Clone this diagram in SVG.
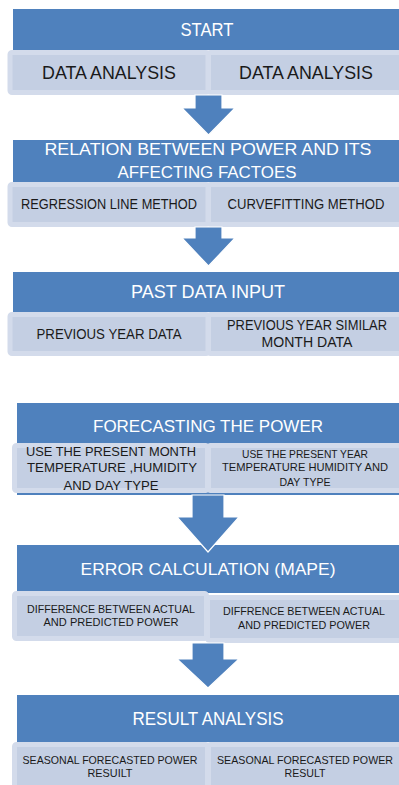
<svg xmlns="http://www.w3.org/2000/svg" width="399" height="785" viewBox="0 0 399 785">
<style>
.hdr{fill:#4f81bd}
.sub{fill:#c4cfe3;stroke:#d3dbeb;stroke-width:5}
.arr{fill:#4f81bd;stroke:#ffffff;stroke-width:1.2}
text{font-family:"Liberation Sans",Arial,sans-serif;text-anchor:middle}
.ht{fill:#ffffff}
.st{fill:#1a1a1a}
</style>
<rect width="399" height="785" fill="#ffffff"/>
<g id="start">
<rect class="hdr" x="13" y="9" width="392" height="41"/>
<text class="ht" x="207" y="36" font-size="18" textLength="53" lengthAdjust="spacingAndGlyphs">START</text>
<rect class="sub" x="10" y="52.5" width="198" height="40" rx="2"/>
<rect class="sub" x="208.5" y="52.5" width="196" height="40" rx="2"/>
<text class="st" x="109" y="79" font-size="19" textLength="134" lengthAdjust="spacingAndGlyphs">DATA ANALYSIS</text>
<text class="st" x="306" y="79" font-size="19" textLength="134" lengthAdjust="spacingAndGlyphs">DATA ANALYSIS</text>
</g>
<g id="relation">
<rect class="hdr" x="13" y="140" width="392" height="42"/>
<text class="ht" x="208" y="155" font-size="16" textLength="327" lengthAdjust="spacingAndGlyphs">RELATION  BETWEEN POWER AND ITS</text>
<text class="ht" x="207" y="178" font-size="16" textLength="179" lengthAdjust="spacingAndGlyphs">AFFECTING FACTOES</text>
<rect class="sub" x="10" y="184.5" width="198" height="40" rx="2"/>
<rect class="sub" x="208.5" y="184.5" width="196" height="40" rx="2"/>
<text class="st" x="109" y="209" font-size="15" textLength="176" lengthAdjust="spacingAndGlyphs">REGRESSION LINE METHOD</text>
<text class="st" x="306" y="209" font-size="15" textLength="157" lengthAdjust="spacingAndGlyphs">CURVEFITTING METHOD</text>
</g>
<g id="pastdata">
<rect class="hdr" x="13" y="272" width="392" height="40"/>
<text class="ht" x="208" y="298" font-size="18.5" textLength="154" lengthAdjust="spacingAndGlyphs">PAST DATA INPUT</text>
<rect class="sub" x="10" y="314.5" width="198" height="39" rx="2"/>
<rect class="sub" x="208.5" y="314.5" width="196" height="39" rx="2"/>
<text class="st" x="109" y="339" font-size="14" textLength="145" lengthAdjust="spacingAndGlyphs">PREVIOUS YEAR  DATA</text>
<text class="st" x="307" y="330" font-size="14" textLength="160" lengthAdjust="spacingAndGlyphs">PREVIOUS YEAR SIMILAR</text>
<text class="st" x="307" y="347" font-size="14" textLength="91" lengthAdjust="spacingAndGlyphs">MONTH DATA</text>
</g>
<g id="forecasting">
<rect class="hdr" x="17" y="403" width="388" height="92"/>
<text class="ht" x="208" y="432" font-size="17" textLength="230" lengthAdjust="spacingAndGlyphs">FORECASTING THE POWER</text>
<rect class="sub" x="14.5" y="445.5" width="193" height="45" rx="2"/>
<rect class="sub" x="208.5" y="445.5" width="196" height="45" rx="2"/>
<text class="st" x="111" y="456" font-size="13" textLength="170" lengthAdjust="spacingAndGlyphs">USE THE PRESENT MONTH</text>
<text class="st" x="112" y="472" font-size="13" textLength="170" lengthAdjust="spacingAndGlyphs">TEMPERATURE ,HUMIDITY</text>
<text class="st" x="111" y="490" font-size="13" textLength="95" lengthAdjust="spacingAndGlyphs">AND DAY TYPE</text>
<text class="st" x="305" y="458" font-size="10.5" textLength="126" lengthAdjust="spacingAndGlyphs">USE THE PRESENT YEAR</text>
<text class="st" x="305" y="471" font-size="10.5" textLength="166" lengthAdjust="spacingAndGlyphs">TEMPERATURE HUMIDITY AND</text>
<text class="st" x="305" y="486" font-size="10.5" textLength="51" lengthAdjust="spacingAndGlyphs">DAY TYPE</text>
</g>
<g id="error">
<rect class="hdr" x="17" y="545" width="388" height="48"/>
<text class="ht" x="208" y="575" font-size="17" textLength="255" lengthAdjust="spacingAndGlyphs">ERROR CALCULATION (MAPE)</text>
<rect class="sub" x="207.5" y="597.5" width="197" height="43" rx="2"/>
<rect class="sub" x="14.5" y="593.5" width="192" height="45" rx="2"/>
<text class="st" x="111" y="613" font-size="11.5" textLength="168" lengthAdjust="spacingAndGlyphs">DIFFERENCE BETWEEN ACTUAL</text>
<text class="st" x="111" y="626" font-size="11.5" textLength="135" lengthAdjust="spacingAndGlyphs">AND PREDICTED  POWER</text>
<text class="st" x="304" y="615" font-size="11.5" textLength="162" lengthAdjust="spacingAndGlyphs">DIFFRENCE BETWEEN ACTUAL</text>
<text class="st" x="304" y="629" font-size="11.5" textLength="132" lengthAdjust="spacingAndGlyphs">AND PREDICTED POWER</text>
</g>
<g id="result">
<rect class="hdr" x="17" y="695" width="388" height="47"/>
<text class="ht" x="208" y="725" font-size="18.5" textLength="151" lengthAdjust="spacingAndGlyphs">RESULT ANALYSIS</text>
<rect class="sub" x="14.5" y="744.5" width="193" height="46" rx="2"/>
<rect class="sub" x="208.5" y="744.5" width="196" height="46" rx="2"/>
<text class="st" x="110" y="764" font-size="11.5" textLength="175" lengthAdjust="spacingAndGlyphs">SEASONAL FORECASTED POWER</text>
<text class="st" x="110" y="777" font-size="11.5" textLength="45" lengthAdjust="spacingAndGlyphs">RESUILT</text>
<text class="st" x="305" y="764" font-size="11.5" textLength="176" lengthAdjust="spacingAndGlyphs">SEASONAL FORECASTED POWER</text>
<text class="st" x="305" y="777" font-size="11.5" textLength="41" lengthAdjust="spacingAndGlyphs">RESULT</text>
</g>
<g id="connectors">
<polygon class="arr" points="195,95 222,95 222,108 235,108 208.5,135 182,108 195,108"/>
<polygon class="arr" points="195,227 222,227 222,238 235,238 208.5,266 182,238 195,238"/>
<polygon class="arr" points="192,495 224,495 224,517 239,517 208,552 177,517 192,517"/>
<polygon class="arr" points="192,643 224,643 224,659 239,659 208,688 177,659 192,659"/>
</g>
</svg>
